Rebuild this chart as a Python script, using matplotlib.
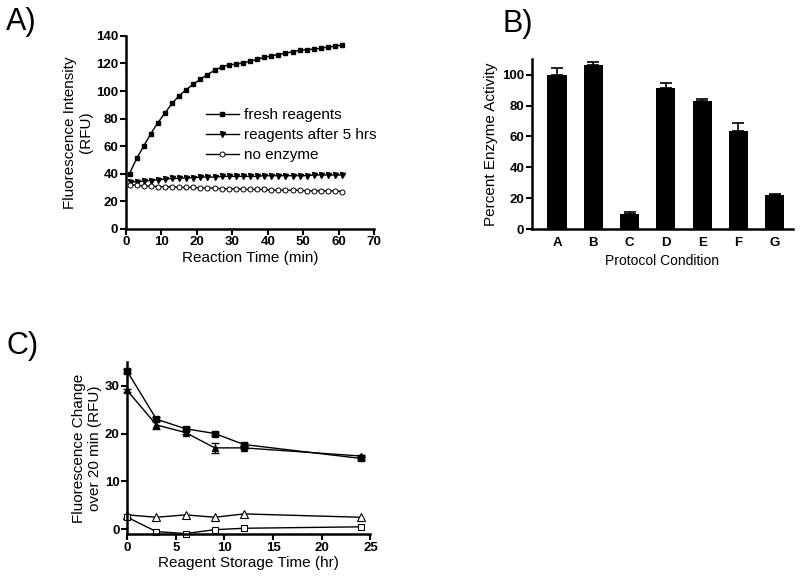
import numpy as np
import matplotlib
matplotlib.use("Agg")
import matplotlib.pyplot as plt

plt.rcParams['font.family'] = ['Liberation Sans', 'DejaVu Sans']

# ---- panel A data ----
time_min = list(range(1, 62, 2))
fresh = [40, 51, 60, 69, 77, 84, 91, 96.5, 101, 105, 108.5, 112, 115, 117.5, 119,
         119.5, 120.5, 121.5, 123, 124.5, 125.5, 126.5, 127.5, 128.5, 129.5, 130,
         130.5, 131, 132, 132.5, 133.5]
after5 = [34, 34, 34.5, 35, 35.5, 36, 36.5, 36.5, 37, 37, 37.5, 37.5, 37.5, 38, 38,
          38, 38, 38, 38, 38.5, 38.5, 38.5, 38.5, 38.5, 38.5, 38.5, 39, 39, 39, 39, 39]
no_enzyme = [32, 31.5, 31, 31, 30.5, 30.5, 30.5, 30, 30, 30, 29.5, 29.5, 29.5, 29, 29,
             29, 28.5, 28.5, 28.5, 28.5, 28, 28, 28, 28, 28, 27.5, 27.5, 27.5, 27.5, 27.5, 27]

# ---- panel B data ----
conditions = ['A', 'B', 'C', 'D', 'E', 'F', 'G']
activity = [100, 106.5, 9.5, 91.5, 83, 63.5, 22]
activity_err = [4, 1.5, 1.5, 3, 1.5, 5, 1]

# ---- panel C data ----
storage_hr = [0, 3, 6, 9, 12, 24]
sq_filled = [33, 23, 21, 20, 17.7, 14.8]
sq_filled_err = [0.4, 0.4, 0.3, 0.3, 0.3, 0.3]
tri_filled = [29, 21.8, 20.2, 17, 17, 15.3]
tri_filled_err = [0.4, 0.9, 0.4, 1.1, 0.3, 0.3]
tri_open = [3, 2.5, 3, 2.5, 3.2, 2.5]
sq_open = [2.5, -0.5, -0.9, -0.1, 0.2, 0.5]

fig = plt.figure(figsize=(8, 5.8), dpi=100)


def style_axes(ax):
    for side in ['top', 'right']:
        ax.spines[side].set_visible(False)
    for side in ['left', 'bottom']:
        ax.spines[side].set_linewidth(1.8)
    ax.tick_params(direction='out', length=4, width=1.5, pad=1.5)
    for lab in ax.get_xticklabels() + ax.get_yticklabels():
        lab.set_fontweight('bold')
        lab.set_fontsize(9.5)


# ---- A ----
axA = fig.add_axes([0.1575, 0.6057, 0.31, 0.3323])
axA.plot(time_min, fresh, '-s', color='black', ms=3.3, lw=1, label='fresh reagents')
axA.plot(time_min, after5, '-v', color='black', ms=3.6, lw=1, label='reagents after 5 hrs')
axA.plot(time_min, no_enzyme, '-o', color='black', mfc='white', ms=3.6, mew=0.7, lw=1,
         label='no enzyme')
axA.set_xlim(0, 70)
axA.set_ylim(0, 140)
axA.set_xticks(range(0, 71, 10))
axA.set_yticks(range(0, 141, 20))
axA.set_xlabel('Reaction Time (min)', fontsize=11, labelpad=2)
axA.set_ylabel('Fluorescence Intensity\n(RFU)', fontsize=11, labelpad=2)
style_axes(axA)
axA.legend(loc='upper left', bbox_to_anchor=(0.29, 0.665), frameon=False, fontsize=11,
           handlelength=2.2, handletextpad=0.3, labelspacing=0.4, borderpad=0)

# ---- B ----
axB = fig.add_axes([0.665, 0.605, 0.326, 0.293])
xpos = np.arange(len(conditions))
axB.bar(xpos, activity, width=0.53, color='black')
axB.errorbar(xpos, activity, yerr=[np.zeros(len(activity)), activity_err], fmt='none',
             ecolor='black', elinewidth=1.2, capsize=4, capthick=1.2)
axB.set_xlim(-0.69, 6.5)
axB.set_ylim(0, 110)
axB.set_xticks(xpos)
axB.set_xticklabels(conditions)
axB.set_yticks(range(0, 101, 20))
axB.set_xlabel('Protocol Condition', fontsize=10, labelpad=3)
axB.set_ylabel('Percent Enzyme Activity', fontsize=11, labelpad=3)
style_axes(axB)
axB.tick_params(axis='x', length=0, pad=6)

# ---- C ----
axC = fig.add_axes([0.159, 0.0793, 0.304, 0.297])
axC.errorbar(storage_hr, sq_filled, yerr=sq_filled_err, fmt='-s', color='black', ms=4.5,
             lw=1, capsize=3, elinewidth=0.8)
axC.errorbar(storage_hr, tri_filled, yerr=tri_filled_err, fmt='-^', color='black', ms=5,
             lw=1, capsize=3, elinewidth=0.8)
axC.plot(storage_hr, tri_open, '-^', color='black', mfc='white', ms=5.5, mew=0.8, lw=1)
axC.plot(storage_hr, sq_open, '-s', color='black', mfc='white', ms=5, mew=0.8, lw=1)
axC.set_xlim(0, 25)
axC.set_ylim(-1, 35)
axC.set_xticks(range(0, 26, 5))
axC.set_yticks([0, 10, 20, 30])
axC.set_xlabel('Reagent Storage Time (hr)', fontsize=11, labelpad=2)
axC.set_ylabel('Fluorescence Change\nover 20 min (RFU)', fontsize=11, labelpad=2)
style_axes(axC)
for line in axC.get_lines():
    line.set_clip_on(False)

fig.text(0.008, 0.948, 'A)', fontsize=22)
fig.text(0.628, 0.945, 'B)', fontsize=22)
fig.text(0.008, 0.39, 'C)', fontsize=22)

fig.savefig('out.png', dpi=100)
